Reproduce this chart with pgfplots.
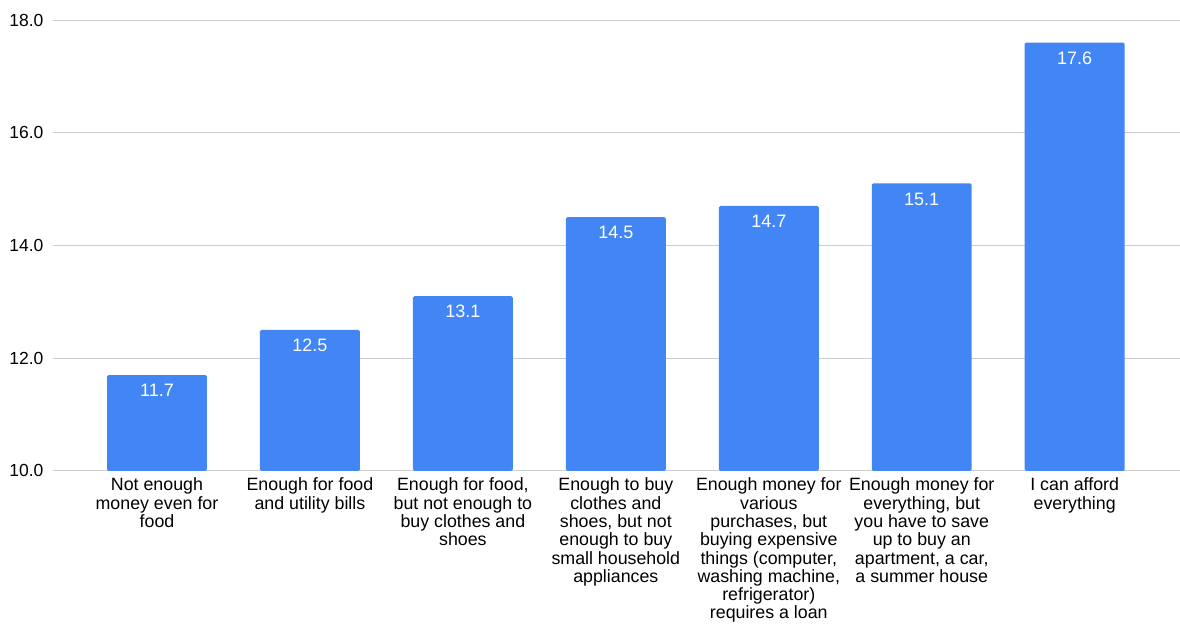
\documentclass[border=0pt]{standalone}
\usepackage{pgfplots}
\pgfplotsset{compat=1.18}
\usepackage{fontspec}
\setmainfont{Liberation Sans}
\definecolor{barblue}{HTML}{4285F4}
\definecolor{gridgray}{HTML}{CCCCCC}
\begin{document}
\begin{tikzpicture}
\begin{axis}[
  at={(0,0)}, anchor=south west,
  width=1127pt, height=451pt, scale only axis,
  xmin=-0.68, xmax=6.686,
  ymin=10, ymax=18,
  ytick={10,12,14,16,18},
  ymajorgrids, grid style={gridgray, line width=0.8pt},
  axis line style={draw=none},
  major tick length=0pt,
  xtick={0,1,2,3,4,5,6},
  xticklabels={
    {Not enough\\money even for\\food},
    {Enough for food\\and utility bills},
    {Enough for food,\\but not enough to\\buy clothes and\\shoes},
    {Enough to buy\\clothes and\\shoes, but not\\enough to buy\\small household\\appliances},
    {Enough money for\\various\\purchases, but\\buying expensive\\things (computer,\\washing machine,\\refrigerator)\\requires a loan},
    {Enough money for\\everything, but\\you have to save\\up to buy an\\apartment, a car,\\a summer house},
    {I can afford\\everything}},
  xticklabel style={align=center, font=\fontsize{17.8}{18.3}\selectfont, anchor=north, yshift=-7pt, inner sep=0pt},
  yticklabel style={font=\fontsize{17.5}{18}\selectfont, xshift=-6pt},
  /pgf/number format/assume math mode=true,
  yticklabel={\pgfmathprintnumber[fixed,fixed zerofill,precision=1]{\tick}},
  ybar, bar width=100pt,
  nodes near coords={\pgfmathprintnumber[fixed,fixed zerofill,precision=1]{\pgfplotspointmeta}},
  every node near coord/.append style={anchor=north, yshift=-9pt, text=white, inner sep=0pt, font=\fontsize{18}{18}\selectfont, /pgf/number format/assume math mode=true},
  clip=false,
]
\addplot[fill=barblue, draw=none, rounded corners=1.5pt] coordinates {
(0,11.7) (1,12.5) (2,13.1) (3,14.5) (4,14.7) (5,15.1) (6,17.6)};
\end{axis}
\path[use as bounding box] (-53pt,-153pt) rectangle (1127pt,471pt);
\end{tikzpicture}
\end{document}
